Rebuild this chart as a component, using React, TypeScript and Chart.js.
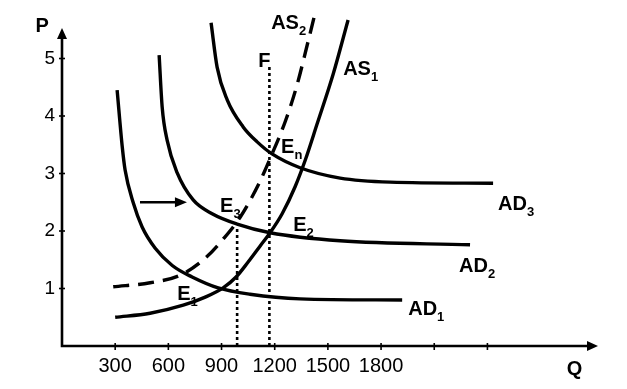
import { useEffect, useRef } from "react";
import { Chart, registerables } from "chart.js";
Chart.register(...registerables);

// Aggregate demand / supply curves (Q = output, P = price level)
const ad1Q = [311, 340, 356, 402, 452, 526, 622, 734, 881, 1061, 1343, 1919];
const ad1P = [4.45, 3.46, 3.06, 2.49, 2.07, 1.7, 1.4, 1.2, 1.01, 0.9, 0.82, 0.8];
const ad2Q = [548, 565, 593, 650, 740, 847, 988, 1174, 1569, 2302];
const ad2P = [5.06, 4.16, 3.58, 3.01, 2.54, 2.3, 2.12, 1.97, 1.83, 1.76];
const ad3Q = [841, 875, 932, 1022, 1101, 1185, 1343, 1569, 1851, 2432];
const ad3P = [5.62, 4.85, 4.28, 3.81, 3.55, 3.34, 3.1, 2.92, 2.85, 2.83];
const as1Q = [300, 497, 684, 808, 909, 982, 1050, 1118, 1174, 1242, 1315, 1372, 1439, 1530, 1614];
const as1P = [0.5, 0.57, 0.71, 0.85, 1.01, 1.2, 1.46, 1.74, 1.97, 2.3, 2.77, 3.23, 3.86, 4.73, 5.67];
const as2Q = [289, 497, 666, 802, 915, 1005, 1107, 1185, 1259, 1326, 1383, 1428];
const as2P = [1.03, 1.1, 1.23, 1.51, 1.88, 2.24, 2.8, 3.34, 3.9, 4.54, 5.23, 5.79];
const guide1Q = [988, 988];
const guide1P = [0, 2.07];
const guideFQ = [1170, 1170];
const guideFP = [0, 4.87];

const xTickValues = [300, 600, 900, 1200, 1500, 1800, 2100, 2400];
const xTickLabels = ["300", "600", "900", "1200", "1500", "1800", "", ""];
const yTickValues = [1, 2, 3, 4, 5];
const yTickLabels = ["1", "2", "3", "4", "5"];

// text annotations: [main, subscript, Q, P]
const annotations: [string, string, number, number][] = [
  ["P", "", -150, 5.46],
  ["Q", "", 2848, -0.5],
  ["AS", "2", 1180, 5.51],
  ["AS", "1", 1586, 4.71],
  ["F", "", 1107, 4.85],
  ["E", "n", 1236, 3.36],
  ["E", "1", 650, 0.8],
  ["E", "2", 1304, 2.0],
  ["E", "3", 892, 2.33],
  ["AD", "1", 1953, 0.54],
  ["AD", "2", 2240, 1.29],
  ["AD", "3", 2460, 2.37],
];
const shiftArrowQ = [440, 705];
const shiftArrowP = 2.5;

const FONT = '"Liberation Sans", Arial, Helvetica, sans-serif';

const pts = (qs: number[], ps: number[]) => qs.map((q, i) => ({ x: q, y: ps[i] }));

const zeroPad = (s: any) => {
  s.paddingTop = 0;
  s.paddingBottom = 0;
  s.paddingLeft = 0;
  s.paddingRight = 0;
};

export default function App() {
  const ref = useRef<HTMLCanvasElement | null>(null);
  useEffect(() => {
    if (!ref.current) return;
    const curve = (data: { x: number; y: number }[], dash: number[] = []) => ({
      data,
      borderColor: "#000",
      borderWidth: 3.4,
      borderDash: dash,
      pointRadius: 0,
      fill: false,
      cubicInterpolationMode: "monotone" as const,
      clip: false as any,
      borderCapStyle: "butt" as const,
    });
    const guide = (data: { x: number; y: number }[]) => ({
      data,
      borderColor: "#000",
      borderWidth: 2.6,
      borderDash: [3, 3],
      pointRadius: 0,
      fill: false,
      tension: 0,
      clip: false as any,
    });

    const overlay = {
      id: "overlay",
      afterDatasetsDraw(chart: any) {
        const ctx = chart.ctx as CanvasRenderingContext2D;
        const xs = chart.scales.x;
        const ys = chart.scales.y;
        const x0 = xs.getPixelForValue(0);
        const y0 = ys.getPixelForValue(0);
        const yTop = ys.getPixelForValue(5.53);
        const xEnd = xs.getPixelForValue(3024);
        ctx.save();
        ctx.strokeStyle = "#000";
        ctx.fillStyle = "#000";
        ctx.lineWidth = 2.6;
        ctx.beginPath();
        ctx.moveTo(x0, yTop + 8);
        ctx.lineTo(x0, y0);
        ctx.lineTo(xEnd - 8, y0);
        ctx.stroke();
        // arrow heads
        ctx.beginPath();
        ctx.moveTo(x0, yTop);
        ctx.lineTo(x0 - 5, yTop + 11);
        ctx.lineTo(x0 + 5, yTop + 11);
        ctx.closePath();
        ctx.fill();
        ctx.beginPath();
        ctx.moveTo(xEnd, y0);
        ctx.lineTo(xEnd - 11, y0 - 5);
        ctx.lineTo(xEnd - 11, y0 + 5);
        ctx.closePath();
        ctx.fill();
        // tick marks
        ctx.lineWidth = 1.6;
        xTickValues.forEach((v) => {
          const px = xs.getPixelForValue(v);
          ctx.beginPath();
          ctx.moveTo(px, y0 - 3);
          ctx.lineTo(px, y0 + 4);
          ctx.stroke();
        });
        yTickValues.forEach((v) => {
          const py = ys.getPixelForValue(v);
          ctx.beginPath();
          ctx.moveTo(x0 - 3, py);
          ctx.lineTo(x0 + 3, py);
          ctx.stroke();
        });
        // shift arrow
        const ax1 = xs.getPixelForValue(shiftArrowQ[0]);
        const ax2 = xs.getPixelForValue(shiftArrowQ[1]);
        const ay = ys.getPixelForValue(shiftArrowP);
        ctx.lineWidth = 2.4;
        ctx.beginPath();
        ctx.moveTo(ax1, ay);
        ctx.lineTo(ax2 - 8, ay);
        ctx.stroke();
        ctx.beginPath();
        ctx.moveTo(ax2, ay);
        ctx.lineTo(ax2 - 12, ay - 5);
        ctx.lineTo(ax2 - 12, ay + 5);
        ctx.closePath();
        ctx.fill();
        // labels
        ctx.textAlign = "left";
        ctx.textBaseline = "alphabetic";
        annotations.forEach(([main, sub, q, p]) => {
          const px = xs.getPixelForValue(q);
          const py = ys.getPixelForValue(p);
          ctx.font = `bold 20px ${FONT}`;
          ctx.fillText(main, px, py);
          const w = ctx.measureText(main).width;
          if (sub) {
            ctx.font = `bold 13px ${FONT}`;
            ctx.fillText(sub, px + w, py + 6);
          }
        });
        ctx.restore();
      },
    };

    const chart = new Chart(ref.current, {
      type: "line",
      data: {
        datasets: [
          curve(pts(ad1Q, ad1P)),
          curve(pts(ad2Q, ad2P)),
          curve(pts(ad3Q, ad3P)),
          curve(pts(as1Q, as1P)),
          curve(pts(as2Q, as2P), [16, 9]),
          guide(pts(guide1Q, guide1P)),
          guide(pts(guideFQ, guideFP)),
        ] as any,
      },
      options: {
        animation: false,
        responsive: false,
        layout: { padding: { top: 1, right: 15.5, left: 0, bottom: 0 } },
        plugins: { legend: { display: false }, tooltip: { enabled: false } },
        scales: {
          x: {
            type: "linear",
            min: 0,
            max: 3100,
            afterBuildTicks: (s: any) => {
              s.ticks = [0, ...xTickValues, 3100].map((v) => ({ value: v }));
            },
            afterFit: (s: any) => {
              s.height = 43;
              zeroPad(s);
            },
            grid: { display: false, drawTicks: false },
            border: { display: false },
            ticks: {
              autoSkip: false,
              maxRotation: 0,
              padding: 8,
              color: "#000",
              font: { family: FONT, size: 20 },
              callback: (v: any) => {
                const i = xTickValues.indexOf(Number(v));
                return i >= 0 ? xTickLabels[i] : "";
              },
            },
          },
          y: {
            type: "linear",
            min: 0,
            max: 6,
            afterBuildTicks: (s: any) => {
              s.ticks = [0, ...yTickValues, 6].map((v) => ({ value: v }));
            },
            afterFit: (s: any) => {
              s.width = 62;
              zeroPad(s);
            },
            grid: { display: false, drawTicks: false },
            border: { display: false },
            ticks: {
              padding: 7,
              color: "#000",
              font: { family: FONT, size: 19 },
              callback: (v: any) => {
                const i = yTickValues.indexOf(Number(v));
                return i >= 0 ? yTickLabels[i] : "";
              },
            },
          },
        },
      },
      plugins: [overlay],
    });
    return () => chart.destroy();
  }, []);

  return (
    <div style={{ position: "fixed", left: 0, top: 0, width: 627, height: 389, background: "#fff" }}>
      <canvas ref={ref} width={627} height={389} style={{ display: "block" }} />
    </div>
  );
}
